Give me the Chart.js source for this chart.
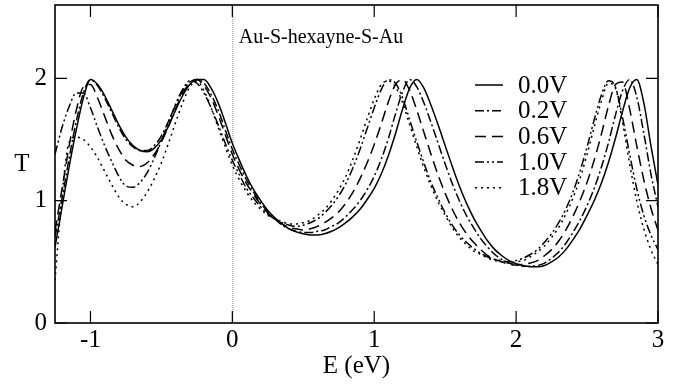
<!DOCTYPE html>
<html><head><meta charset="utf-8">
<script src="https://cdn.jsdelivr.net/npm/chart.js@4.4.0/dist/chart.umd.min.js"></script>
<style>html,body{margin:0;padding:0;background:#fff}</style>
</head><body>
<canvas id="c" width="683" height="384"></canvas>
<script>
// Energy grid (eV)
const energy = [
 -1.25,-1.20,-1.15,-1.10,-1.05,-1.00,-0.95,-0.90,-0.85,-0.80,
 -0.75,-0.70,-0.65,-0.60,-0.55,-0.50,-0.45,-0.40,-0.35,-0.30,
 -0.25,-0.20,-0.15,-0.10,-0.05,0.00,0.05,0.10,0.15,0.20,
 0.25,0.30,0.35,0.40,0.45,0.50,0.55,0.60,0.65,0.70,
 0.75,0.80,0.85,0.90,0.95,1.00,1.05,1.10,1.15,1.20,
 1.25,1.30,1.35,1.40,1.45,1.50,1.55,1.60,1.65,1.70,
 1.75,1.80,1.85,1.90,1.95,2.00,2.05,2.10,2.15,2.20,
 2.25,2.30,2.35,2.40,2.45,2.50,2.55,2.60,2.65,2.70,
 2.75,2.80,2.85,2.90,2.95,3.00];

const seriesLabels = ['0.0V','0.2V','0.6V','1.0V','1.8V'];

const t00 = [
 0.62,0.95,1.28,1.58,1.84,1.99,1.95,1.86,1.74,1.62,
 1.52,1.45,1.41,1.40,1.43,1.50,1.61,1.74,1.86,1.95,
 1.99,1.99,1.92,1.80,1.64,1.47,1.33,1.20,1.09,1.00,
 0.92,0.86,0.81,0.77,0.745,0.73,0.72,0.72,0.73,0.75,
 0.78,0.82,0.87,0.93,1.01,1.10,1.22,1.37,1.55,1.75,
 1.92,1.99,1.92,1.78,1.62,1.45,1.28,1.12,0.98,0.86,
 0.76,0.67,0.60,0.55,0.51,0.485,0.47,0.46,0.46,0.47,
 0.50,0.54,0.60,0.68,0.77,0.88,1.00,1.14,1.31,1.51,
 1.73,1.92,1.99,1.80,1.45,1.13];

const t02 = [
 0.70,1.02,1.35,1.65,1.88,1.99,1.94,1.84,1.72,1.60,
 1.50,1.44,1.41,1.41,1.45,1.53,1.65,1.78,1.90,1.97,
 1.99,1.96,1.87,1.74,1.58,1.42,1.29,1.17,1.07,0.98,
 0.91,0.85,0.80,0.77,0.75,0.74,0.74,0.75,0.76,0.79,
 0.82,0.87,0.93,1.00,1.09,1.20,1.34,1.51,1.71,1.89,
 1.99,1.93,1.80,1.64,1.47,1.30,1.14,1.00,0.88,0.78,
 0.69,0.62,0.56,0.52,0.49,0.475,0.465,0.465,0.47,0.49,
 0.53,0.58,0.65,0.74,0.84,0.96,1.10,1.27,1.47,1.70,
 1.90,1.99,1.85,1.55,1.22,0.95];

const t06 = [
 0.75,1.10,1.45,1.74,1.93,1.95,1.84,1.69,1.54,1.42,
 1.33,1.29,1.28,1.31,1.38,1.48,1.61,1.75,1.88,1.96,
 1.99,1.94,1.84,1.70,1.54,1.38,1.25,1.14,1.05,0.97,
 0.90,0.85,0.81,0.78,0.77,0.76,0.77,0.79,0.82,0.86,
 0.91,0.98,1.07,1.18,1.31,1.46,1.63,1.81,1.95,1.99,
 1.90,1.74,1.56,1.38,1.21,1.06,0.93,0.82,0.73,0.66,
 0.60,0.55,0.52,0.50,0.48,0.475,0.48,0.49,0.51,0.55,
 0.60,0.67,0.76,0.87,1.00,1.15,1.33,1.54,1.77,1.95,
 1.97,1.75,1.45,1.17,0.94,0.76];

const t10 = [
 1.38,1.60,1.77,1.88,1.88,1.76,1.60,1.45,1.32,1.20,
 1.12,1.11,1.15,1.23,1.35,1.49,1.64,1.79,1.91,1.98,
 1.96,1.88,1.76,1.62,1.47,1.33,1.21,1.10,1.02,0.95,
 0.89,0.85,0.82,0.80,0.79,0.80,0.82,0.85,0.90,0.96,
 1.04,1.14,1.27,1.42,1.59,1.76,1.91,1.99,1.96,1.84,
 1.66,1.48,1.31,1.15,1.02,0.90,0.80,0.72,0.66,0.61,
 0.57,0.54,0.52,0.51,0.50,0.51,0.53,0.56,0.60,0.66,
 0.73,0.82,0.93,1.07,1.24,1.44,1.66,1.86,1.98,1.93,
 1.68,1.38,1.10,0.88,0.72,0.60];

const t18 = [
 0.35,1.05,1.48,1.52,1.50,1.44,1.35,1.24,1.13,1.03,
 0.97,0.95,0.99,1.07,1.18,1.31,1.47,1.64,1.80,1.93,
 1.98,1.90,1.76,1.60,1.44,1.29,1.17,1.07,0.99,0.93,
 0.88,0.85,0.83,0.81,0.81,0.82,0.84,0.88,0.93,1.00,
 1.09,1.20,1.34,1.50,1.67,1.83,1.95,1.98,1.93,1.80,
 1.62,1.44,1.27,1.12,0.99,0.88,0.78,0.70,0.64,0.59,
 0.56,0.53,0.51,0.50,0.49,0.50,0.51,0.54,0.58,0.63,
 0.70,0.78,0.89,1.02,1.18,1.38,1.60,1.81,1.96,1.92,
 1.64,1.30,1.00,0.77,0.60,0.48];

const xTicks = [-1,0,1,2,3];
const yTicks = [0,1,2];
const chartTitle = 'Au-S-hexayne-S-Au';
const xTitle = 'E (eV)';
const yTitle = 'T';

const FONT = '"Liberation Serif","Times New Roman",serif';
const dashes = [[], [9,3,2,3], [11,6], [9,3,2,3,2,3], [2,4]];
const allT = [t00,t02,t06,t10,t18];

const datasets = allT.map((t,i)=>({
  label: seriesLabels[i],
  data: energy.map((e,j)=>({x:e,y:t[j]})),
  borderColor:'#000',
  borderWidth:1.5,
  borderDash:dashes[i],
  showLine:true,
  pointRadius:0,
  fill:false,
  cubicInterpolationMode:'monotone'
}));

const framePlugin = {
  id:'framePlugin',
  beforeDatasetsDraw(chart){
    const {ctx, chartArea:a, scales:{x}} = chart;
    const px = x.getPixelForValue(0);
    ctx.save();
    ctx.strokeStyle='#888';
    ctx.lineWidth=1;
    ctx.setLineDash([1,1]);
    ctx.beginPath();
    ctx.moveTo(px+0.5,a.top);
    ctx.lineTo(px+0.5,a.bottom);
    ctx.stroke();
    ctx.restore();
  },
  afterDraw(chart){
    const {ctx, chartArea:a, scales:{x,y}} = chart;
    ctx.save();
    ctx.strokeStyle='#000';
    ctx.lineWidth=1.6;
    ctx.setLineDash([]);
    ctx.strokeRect(a.left,a.top,a.right-a.left,a.bottom-a.top);
    const L=12;
    ctx.lineWidth=1.2;
    ctx.beginPath();
    xTicks.forEach(v=>{
      const p=x.getPixelForValue(v);
      ctx.moveTo(p,a.bottom); ctx.lineTo(p,a.bottom-L);
      ctx.moveTo(p,a.top); ctx.lineTo(p,a.top+L);
    });
    yTicks.forEach(v=>{
      const p=y.getPixelForValue(v);
      ctx.moveTo(a.left,p); ctx.lineTo(a.left+L,p);
      ctx.moveTo(a.right,p); ctx.lineTo(a.right-L,p);
    });
    ctx.stroke();
    ctx.fillStyle='#000';
    ctx.textAlign='center';
    ctx.textBaseline='middle';
    // y title
    ctx.font='25px '+FONT;
    ctx.fillText(yTitle, 22, y.getPixelForValue(1.3));
    // chart title
    ctx.font='20px '+FONT;
    ctx.fillText(chartTitle, 321, 38);
    // legend
    ctx.font='25px '+FONT;
    ctx.textAlign='left';
    chart.data.datasets.forEach((d,i)=>{
      const yy = 85 + i*25.7;
      ctx.lineWidth=1.5;
      ctx.setLineDash(d.borderDash);
      ctx.beginPath();
      ctx.moveTo(475,yy); ctx.lineTo(503,yy);
      ctx.stroke();
      ctx.setLineDash([]);
      ctx.fillText(d.label, 518, yy+1);
    });
    ctx.restore();
  }
};

new Chart(document.getElementById('c').getContext('2d'), {
  type:'scatter',
  data:{datasets},
  options:{
    responsive:false,
    animation:false,
    devicePixelRatio:1,
    layout:{padding:{left:0,right:25,top:5,bottom:0}},
    plugins:{legend:{display:false},tooltip:{enabled:false}},
    scales:{
      x:{
        type:'linear', min:-1.25, max:3,
        afterBuildTicks(s){ s.ticks = xTicks.map(v=>({value:v})); },
        ticks:{font:{family:FONT,size:25},color:'#000',padding:2,maxRotation:0},
        grid:{display:false,drawTicks:false},
        border:{display:false},
        title:{display:true,text:xTitle,font:{family:FONT,size:25},color:'#000',padding:{top:0,bottom:3}},
        afterFit(s){ s.height=61; s.paddingLeft=0; s.paddingRight=0; }
      },
      y:{
        type:'linear', min:0, max:2.6,
        afterBuildTicks(s){ s.ticks = yTicks.map(v=>({value:v})); },
        ticks:{font:{family:FONT,size:25},color:'#000',padding:8},
        grid:{display:false,drawTicks:false},
        border:{display:false},
        afterFit(s){ s.width=55; s.paddingTop=0; s.paddingBottom=0; }
      }
    }
  },
  plugins:[framePlugin]
});
</script>
</body></html>
